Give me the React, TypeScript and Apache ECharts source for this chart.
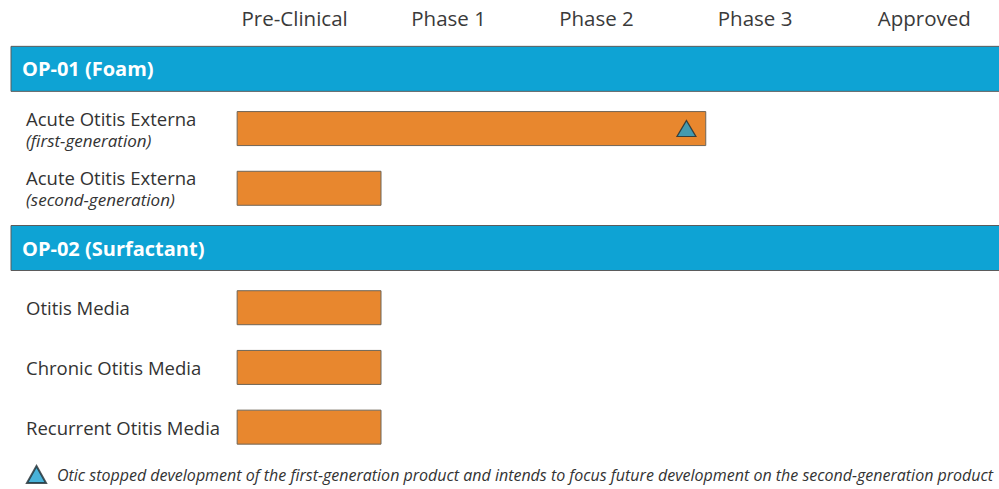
import React, { useEffect, useRef } from "react";
import * as echarts from "echarts";

const phaseLabels = ["Pre-Clinical", "Phase 1", "Phase 2", "Phase 3", "Approved"];
const phaseLabelAt = [0.38, 1.39, 2.36, 3.4, 4.51];

const rowNames = [
  "OP-01 (Foam)",
  "Acute Otitis Externa",
  "Acute Otitis Externa ",
  "OP-02 (Surfactant)",
  "Otitis Media",
  "Chronic Otitis Media",
  "Recurrent Otitis Media",
];
const rowSubtitles = ["", "(first-generation)", "(second-generation)", "", "", "", ""];
const sectionRows = [0, 3];
const progress = [null, 3.08, 0.95, null, 0.95, 0.95, 0.95];
const stoppedMarks = [[2.95, 1]];
const footnote =
  "Otic stopped development of the first-generation product and intends to focus future development on the second-generation product";

const FONT = "'Open Sans', sans-serif";

export default function App() {
  const ref = useRef<HTMLDivElement>(null);
  useEffect(() => {
    if (!ref.current) return;
    const chart = echarts.init(ref.current, undefined, { renderer: "svg" });
    chart.setOption({
      animation: false,
      backgroundColor: "#ffffff",
      textStyle: { fontFamily: FONT },
      grid: { left: 11, right: 0, top: 39, bottom: 32 },
      legend: {
        left: 26,
        top: 465,
        padding: 0,
        itemWidth: 19,
        itemHeight: 17,
        data: [{ name: footnote, icon: "triangle" }],
        textStyle: {
          fontFamily: FONT,
          fontStyle: "italic",
          fontSize: 16,
          color: "#333",
          padding: [0, 0, 0, 6],
        },
      },
      xAxis: [
        {
          type: "value",
          min: -1.48,
          max: 5,
          axisLine: { show: false },
          axisTick: { show: false },
          splitLine: { show: false },
          axisLabel: { show: false },
        },
        {
          type: "value",
          position: "top",
          min: -1.48,
          max: 5,
          axisLine: { show: false },
          axisTick: { show: false },
          splitLine: { show: false },
          axisLabel: {
            customValues: phaseLabelAt,
            margin: 11,
            fontFamily: FONT,
            fontSize: 20.5,
            color: "#3a3a3a",
            formatter: (v: number) => {
              const i = phaseLabelAt.findIndex((p) => Math.abs(p - v) < 1e-6);
              return i >= 0 ? phaseLabels[i] : "";
            },
          },
        },
      ],
      yAxis: {
        type: "category",
        inverse: true,
        data: rowNames,
        axisLine: { show: false },
        axisTick: { show: false },
        splitLine: { show: false },
        axisLabel: {
          inside: true,
          margin: 15,
          formatter: (v: string, idx: number) => {
            if (sectionRows.includes(idx)) return "";
            const sub = rowSubtitles[idx];
            return sub ? `{main|${v.trim()}}\n{sub|${sub}}` : `{main|${v}}`;
          },
          rich: {
            main: { fontFamily: FONT, fontSize: 18.5, color: "#333", lineHeight: 23 },
            sub: { fontFamily: FONT, fontSize: 17, fontStyle: "italic", color: "#333", lineHeight: 21 },
          },
        },
      },
      series: [
        {
          type: "custom",
          name: "sections",
          data: sectionRows.map((r) => ({ value: [0, r], name: rowNames[r] })),
          z: 1,
          renderItem: (params: any, api: any) => {
            const row = api.value(1);
            const y = api.coord([0, row])[1];
            const cs = params.coordSys;
            const h = 45;
            return {
              type: "group",
              children: [
                {
                  type: "rect",
                  shape: { x: cs.x, y: y - h / 2, width: cs.width + 2, height: h },
                  style: { fill: "#0ea3d4", stroke: "#5b5b5b", lineWidth: 1 },
                },
                {
                  type: "text",
                  x: cs.x + 11,
                  y: y,
                  style: {
                    text: rowNames[row],
                    fill: "#ffffff",
                    font: `bold 20px ${FONT}`,
                    verticalAlign: "middle",
                    align: "left",
                  },
                },
              ],
            };
          },
        },
        {
          type: "bar",
          name: "progress",
          data: progress,
          barWidth: 35,
          z: 2,
          itemStyle: { color: "#e8872e", borderColor: "#6f6557", borderWidth: 1 },
        },
        {
          type: "scatter",
          name: footnote,
          data: stoppedMarks,
          symbol: "triangle",
          symbolSize: [19, 16],
          z: 3,
          itemStyle: { color: "#1a9fd0", borderColor: "#1f2a30", borderWidth: 1.2 },
        },
      ],
    });
    return () => chart.dispose();
  }, []);
  return (
    <div
      ref={ref}
      style={{ position: "fixed", left: 0, top: 0, width: 999, height: 489 }}
    />
  );
}
